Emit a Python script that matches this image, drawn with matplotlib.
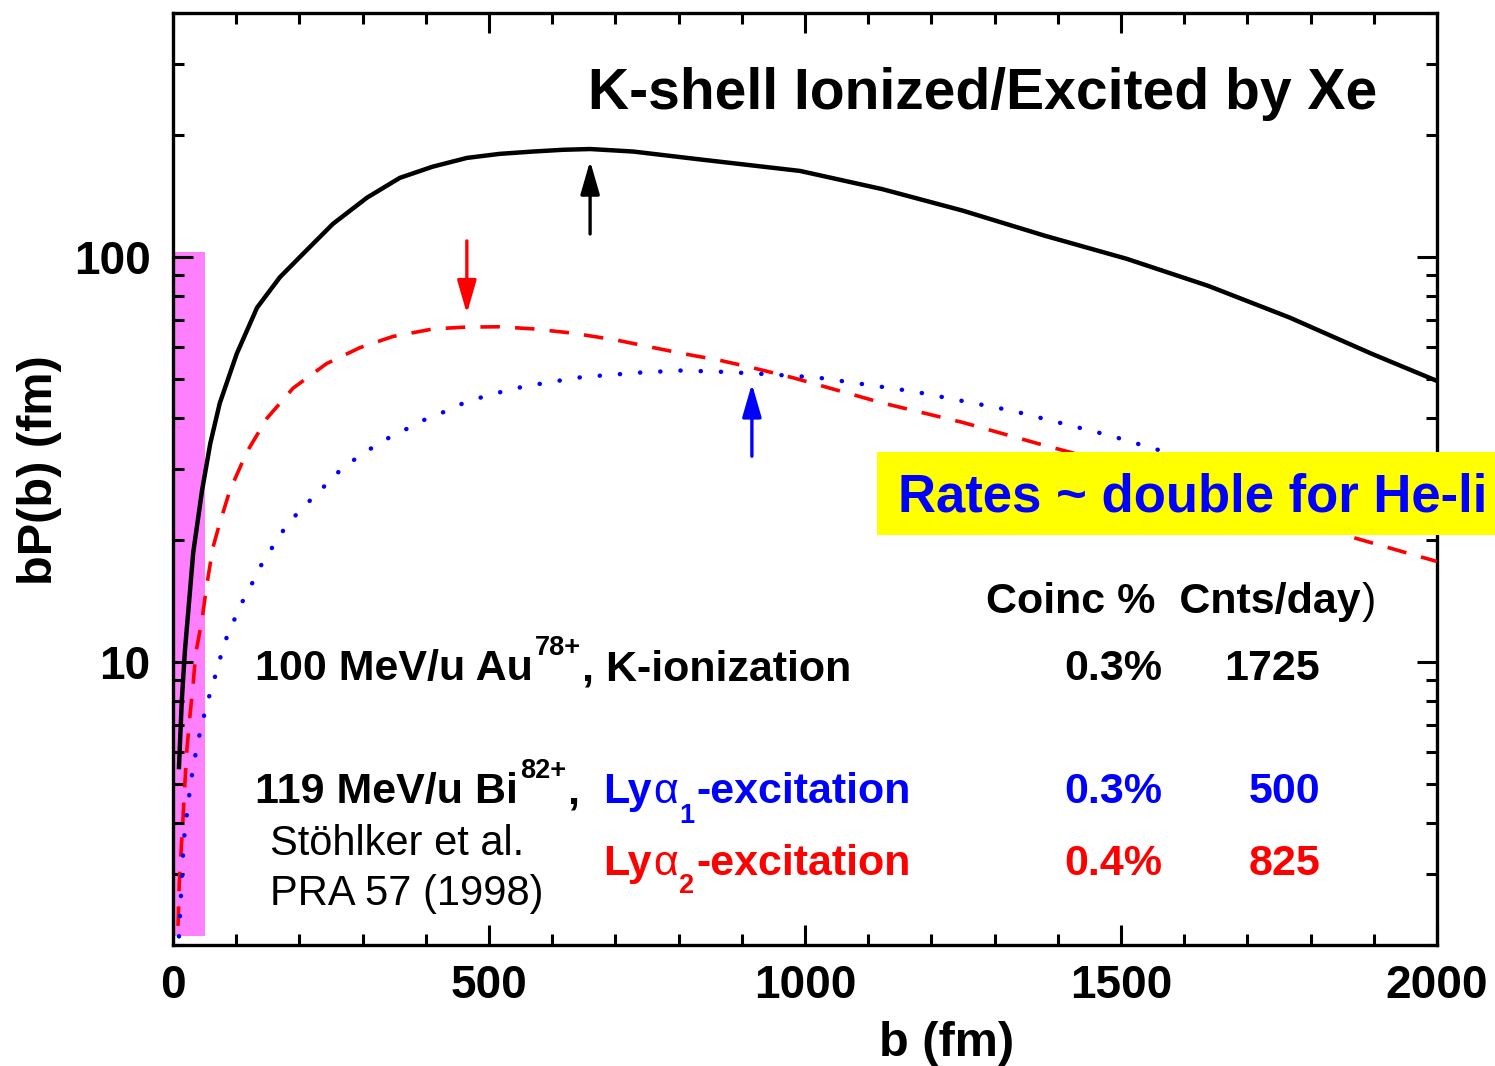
import matplotlib
matplotlib.use('Agg')
import matplotlib.pyplot as plt
from matplotlib.patches import Rectangle
from matplotlib.transforms import offset_copy
from matplotlib.ticker import MultipleLocator, LogLocator, NullFormatter, FixedLocator, FixedFormatter

plt.rcParams['font.family'] = ['Liberation Sans', 'DejaVu Sans']

# ---------------- data ----------------
b_black = [9.5, 14, 19, 27, 32, 46, 53.5, 59, 74, 101, 133, 169, 201, 253, 307, 359, 411, 465,
           517, 570, 617, 660, 728, 834, 992, 1122, 1250, 1380, 1509, 1638, 1767, 1896, 2000]
p_black = [5.5, 8.05, 10.7, 15.0, 18.6, 26.5, 30.9, 34.6, 43.5, 57.7, 74.9, 89, 100, 120.6,
           140, 156.7, 167, 175.5, 179.6, 182, 183.8, 184.6, 182, 174, 163, 147, 130, 112.7,
           98.9, 84.8, 70.8, 57.7, 49.4]

b_red = [8, 10, 13, 16, 19, 22, 27, 32, 36, 46, 53, 63, 74, 90, 117, 149, 190, 243, 296, 348,
         412, 465, 517, 570, 633, 702, 760, 807, 866, 918, 981, 1122, 1250, 1380, 1500, 1620,
         1740, 1857, 1967, 2000]
p_red = [2.23, 2.85, 3.44, 4.14, 5.06, 6.07, 7.39, 8.86, 10.5, 12.7, 15.3, 19.1, 22.0, 26.5,
         33.0, 40.0, 47.4, 54.5, 59.7, 63.6, 66.4, 67.1, 67.2, 66.4, 64.8, 62.3, 59.7, 57.7,
         55.5, 53.2, 50.3, 43.6, 39.0, 34.2, 30.5, 27.0, 23.6, 20.5, 18.3, 17.7]

b_blue = [9.5, 11, 12.5, 14, 15.5, 17.5, 21, 25, 29, 34, 40, 47, 55, 64, 73, 82, 95, 109, 125,
          141, 161, 182, 212, 238, 269, 301, 333, 364, 396, 427, 459, 486, 517, 549, 581, 612,
          644, 676, 739, 802, 860, 924, 1018, 1173, 1328, 1483, 1547, 1700, 1850, 2000]
p_blue = [2.1, 2.33, 2.62, 2.93, 3.28, 3.66, 4.1, 4.59, 5.14, 5.73, 6.41, 7.14, 8.0, 8.9, 10.0,
          11.2, 12.5, 14.0, 15.6, 17.5, 19.6, 22.0, 24.6, 27.0, 30.2, 32.7, 35.2, 37.2, 39.5,
          41.3, 43.5, 44.9, 46.3, 47.6, 48.6, 49.5, 50.4, 50.9, 51.8, 52.4, 52.1, 51.5, 50.4,
          46.5, 41.7, 36.2, 33.8, 28.8, 24.4, 20.5]

# peak markers (arrows): x position, tail value, tip value
arrow_x = [660, 465, 916]
arrow_tail = [113.9, 109.5, 32.2]
arrow_tip = [172.5, 72.4, 48.6]
arrow_colors = ['black', 'red', 'blue']

# shaded impact-parameter band
band_b = [0, 50]
band_p = [2.1, 103]

x_ticks = [0, 500, 1000, 1500, 2000]
x_ticklabels = ['0', '500', '1000', '1500', '2000']
y_ticks = [10, 100]
y_ticklabels = ['10', '100']

# table text
rows_label_y = [9.02, 4.48, 2.98]
coinc = ['0.3%', '0.3%', '0.4%']
cnts = ['1725', '500', '825']
row_colors = ['black', 'blue', 'red']

# ---------------- figure ----------------
fig = plt.figure(figsize=(14.95, 10.66), dpi=100)
ax = fig.add_axes([0.1157, 0.1135, 0.9612 - 0.1157, 0.9878 - 0.1135])
ax.set_yscale('log')
ax.set_xlim(0, 2000)
ax.set_ylim(2, 400)

ax.add_patch(Rectangle((band_b[0], band_p[0]), band_b[1] - band_b[0], band_p[1] - band_p[0],
                       facecolor='#ff80ff', edgecolor='none', zorder=1))

ax.plot(b_black, p_black, color='black', lw=3.2, solid_joinstyle='round', zorder=3)
ax.plot(b_red, p_red, color='red', lw=2.6, ls=(0, (5.4, 4.2)), zorder=3)
ax.plot(b_blue, p_blue, color='blue', lw=3.2, ls=(0, (0.05, 4.5)), dash_capstyle='round', zorder=3)

for x, t0, t1, c in zip(arrow_x, arrow_tail, arrow_tip, arrow_colors):
    ax.annotate('', xy=(x, t1), xytext=(x, t0),
                arrowprops=dict(arrowstyle='-|>,head_length=0.45,head_width=0.13',
                                color=c, lw=2.4, mutation_scale=45, shrinkA=0, shrinkB=0),
                zorder=4)

# axes styling
for s in ax.spines.values():
    s.set_linewidth(2.4)
ax.xaxis.set_major_locator(FixedLocator(x_ticks))
ax.xaxis.set_major_formatter(FixedFormatter(x_ticklabels))
ax.xaxis.set_minor_locator(MultipleLocator(100))
ax.yaxis.set_major_locator(FixedLocator(y_ticks))
ax.yaxis.set_major_formatter(FixedFormatter(y_ticklabels))
ax.yaxis.set_minor_locator(LogLocator(base=10, subs=range(2, 10), numticks=20))
ax.yaxis.set_minor_formatter(NullFormatter())
ax.tick_params(which='both', direction='in', top=True, right=True, width=2.2)
ax.tick_params(which='major', length=14.5)
ax.tick_params(which='minor', length=8)
ax.tick_params(axis='x', which='major', pad=14, labelsize=33)
ax.tick_params(axis='y', which='major', pad=16, labelsize=33)
for lab in ax.get_xticklabels() + ax.get_yticklabels():
    lab.set_fontweight('bold')

ax.set_xlabel('b (fm)', fontsize=35, fontweight='bold')
ax.set_ylabel('bP(b) (fm)', fontsize=35, fontweight='bold')
ax.xaxis.set_label_coords(0.612, -0.081)
ax.yaxis.set_label_coords(-0.088, 0.51)

renderer = fig.canvas.get_renderer()


def chain(x, y, pieces, gap=1.2):
    """Draw text pieces one after another on a common baseline (data coords x, y).
    pieces: (text, fontsize, weight, color, baseline shift in points)."""
    dx = 0.0
    for txt, fs, wt, col, dy in pieces:
        tr = offset_copy(ax.transData, fig=fig, x=dx, y=dy, units='points')
        t = ax.text(x, y, txt, transform=tr, fontsize=fs, fontweight=wt, color=col,
                    ha='left', va='baseline', zorder=6)
        w = t.get_window_extent(renderer).width * 72.0 / fig.dpi
        dx += w + gap


# texts
ax.text(657, 231.9, 'K-shell Ionized/Excited by Xe', fontsize=41, fontweight='bold',
        ha='left', va='baseline')
chain(130, rows_label_y[0], [('100 MeV/u Au', 31, 'bold', 'black', 0),
                             ('78+', 19.5, 'bold', 'black', 18),
                             (', K-ionization', 31, 'bold', 'black', 0)])
chain(130, rows_label_y[1], [('119 MeV/u Bi', 31, 'bold', 'black', 0),
                             ('82+', 19.5, 'bold', 'black', 18),
                             (',', 31, 'bold', 'black', 0)])
ax.text(153, 3.34, 'Stöhlker et al.', fontsize=30, ha='left', va='baseline')
ax.text(153, 2.51, 'PRA 57 (1998)', fontsize=30, ha='left', va='baseline')
chain(680, rows_label_y[1], [('Ly', 31, 'bold', 'blue', 0), ('α', 31, 'normal', 'blue', 0),
                             ('1', 19.5, 'bold', 'blue', -14),
                             ('-excitation', 31, 'bold', 'blue', 0)])
chain(680, rows_label_y[2], [('Ly', 31, 'bold', 'red', 0), ('α', 31, 'normal', 'red', 0),
                             ('2', 19.5, 'bold', 'red', -13),
                             ('-excitation', 31, 'bold', 'red', 0)])
chain(1286, 13.2, [('Coinc %  Cnts/day', 31, 'bold', 'black', 0),
                   (')', 31, 'normal', 'black', 0)])
for yv, cp, cn, col in zip(rows_label_y, coinc, cnts, row_colors):
    ax.text(1565, yv, cp, fontsize=31, fontweight='bold', color=col, ha='right', va='baseline')
    ax.text(1815, yv, cn, fontsize=31, fontweight='bold', color=col, ha='right', va='baseline')

# yellow box
ax.add_patch(Rectangle((0.5866, 0.4981), 0.4134, 0.0779, transform=fig.transFigure,
                       facecolor='#ffff00', edgecolor='none', zorder=5, clip_on=False))
ax.text(0.6007, 0.5197, 'Rates ~ double for He-li', transform=fig.transFigure, fontsize=38,
        fontweight='bold', color='blue', ha='left', va='baseline', zorder=6, clip_on=False)

fig.savefig('out.png', dpi=100)
